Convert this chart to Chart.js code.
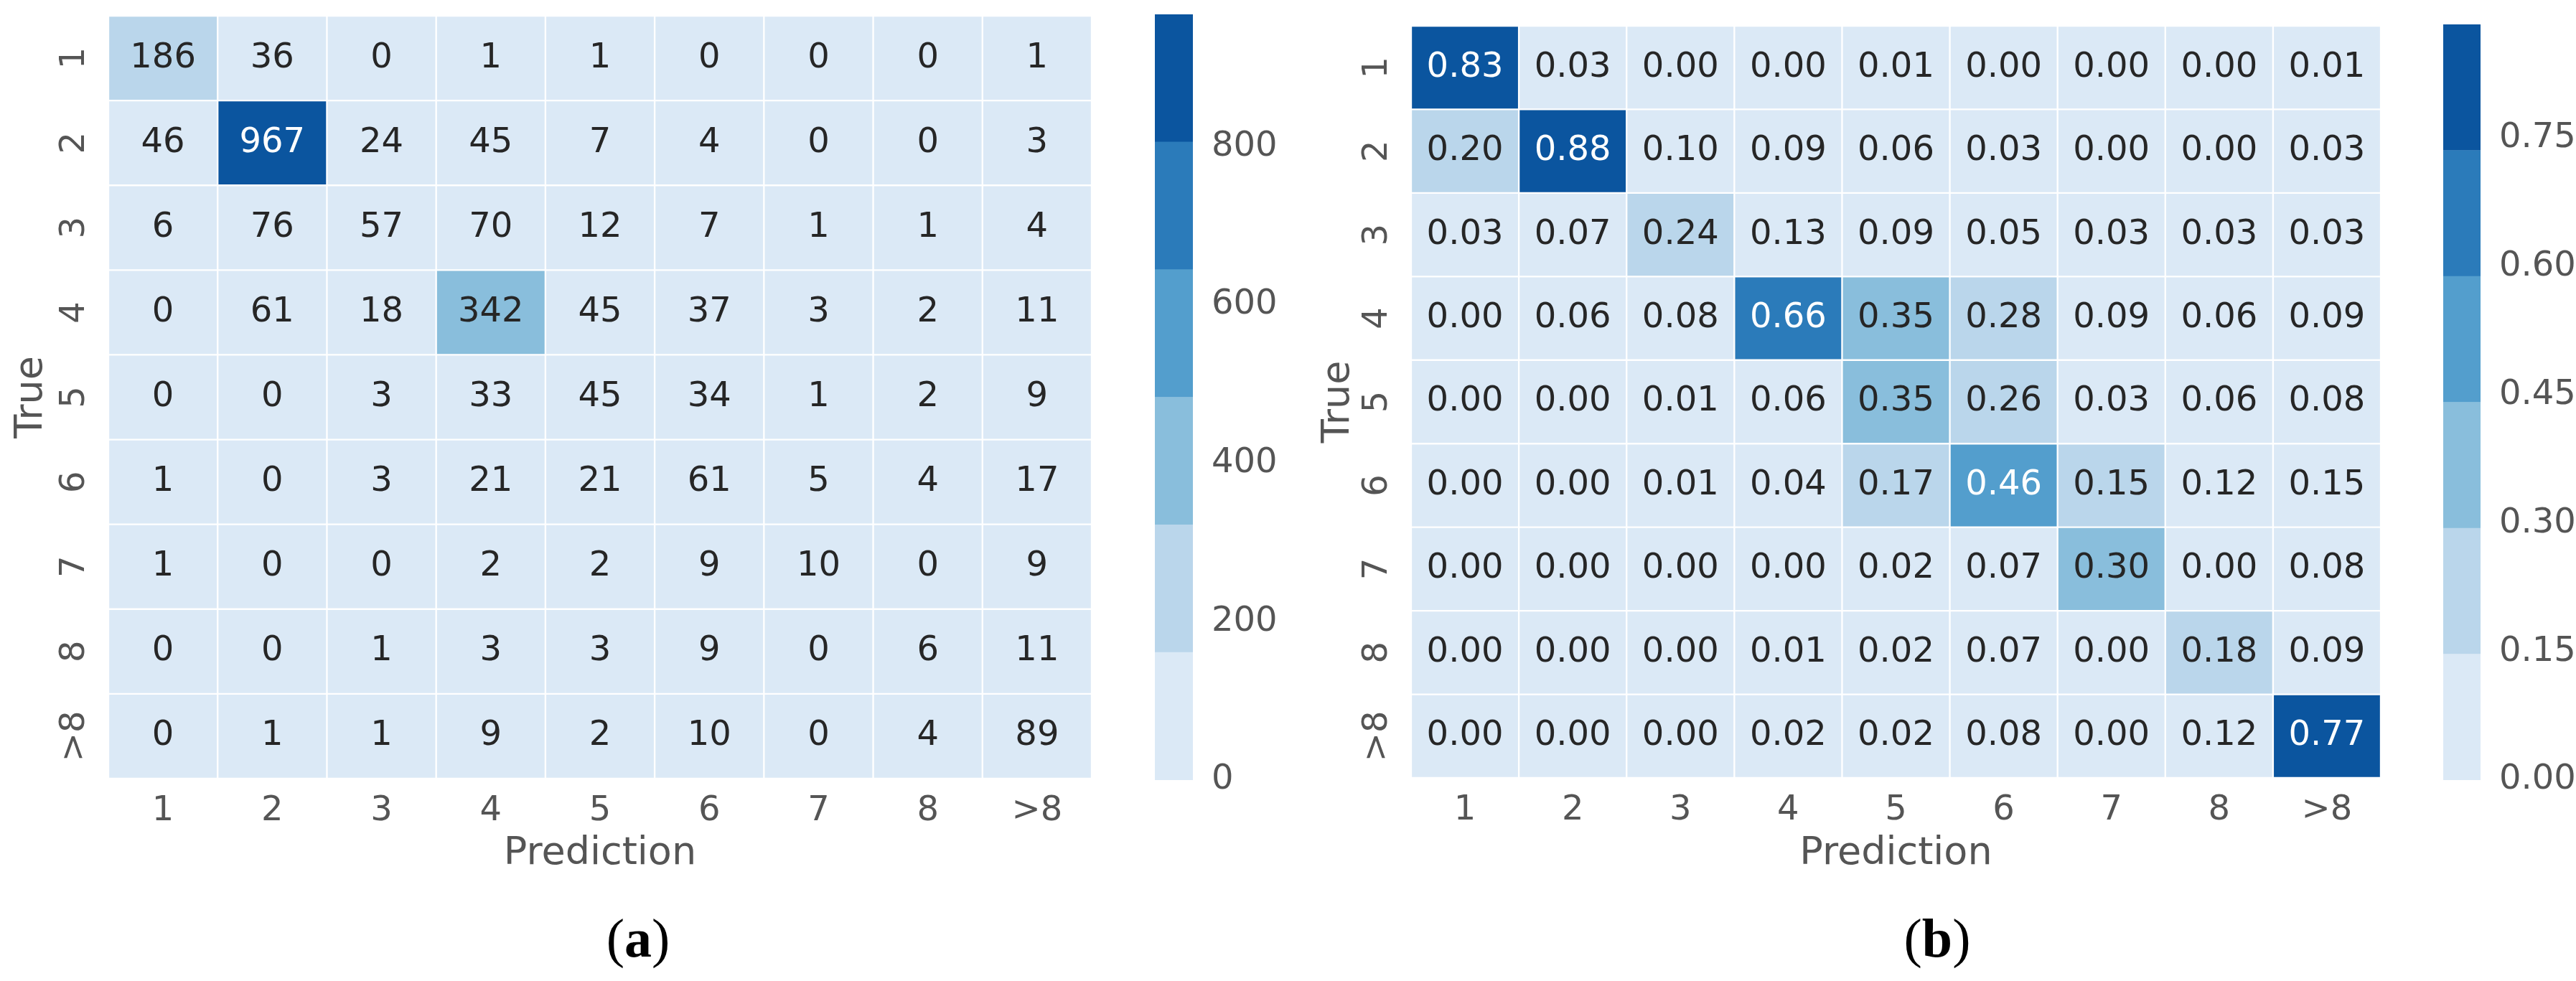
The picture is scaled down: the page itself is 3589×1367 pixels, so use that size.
<!DOCTYPE html>
<html>
<head>
<meta charset="utf-8">
<script src="https://cdn.jsdelivr.net/npm/chart.js@4.4.1/dist/chart.umd.min.js"></script>
<style>
  html, body { margin: 0; padding: 0; background: #fff; }
  body { width: 3589px; height: 1367px; position: relative; overflow: hidden; }
  .box { position: absolute; top: 0; }
  .caption { position: absolute; top: 1269px; font-family: "Liberation Serif", serif; font-size: 76px; line-height: 76px; color: #000; transform: translateX(-50%); white-space: nowrap; }
</style>
</head>
<body>
<div class="box" style="left:0"><canvas id="countsChart" width="1530" height="1230"></canvas></div>
<div class="box" style="left:1600px"><canvas id="countsBar" width="200" height="1230"></canvas></div>
<div class="box" style="left:1821px"><canvas id="ratioChart" width="1510" height="1230"></canvas></div>
<div class="box" style="left:3395px"><canvas id="ratioBar" width="194" height="1230"></canvas></div>
<div class="caption" style="left:889px">(<b>a</b>)</div>
<div class="caption" style="left:2699px">(<b>b</b>)</div>
<script>
const predLabels = ['1', '2', '3', '4', '5', '6', '7', '8', '>8'];
const trueLabels = ['1', '2', '3', '4', '5', '6', '7', '8', '>8'];

// (a) counts, rows = true class, columns = prediction
const counts = [
    [186, 36, 0, 1, 1, 0, 0, 0, 1],
    [46, 967, 24, 45, 7, 4, 0, 0, 3],
    [6, 76, 57, 70, 12, 7, 1, 1, 4],
    [0, 61, 18, 342, 45, 37, 3, 2, 11],
    [0, 0, 3, 33, 45, 34, 1, 2, 9],
    [1, 0, 3, 21, 21, 61, 5, 4, 17],
    [1, 0, 0, 2, 2, 9, 10, 0, 9],
    [0, 0, 1, 3, 3, 9, 0, 6, 11],
    [0, 1, 1, 9, 2, 10, 0, 4, 89]
];

// (b) normalised per predicted column
const ratios = [
    [0.83, 0.03, 0.00, 0.00, 0.01, 0.00, 0.00, 0.00, 0.01],
    [0.20, 0.883, 0.10, 0.09, 0.06, 0.03, 0.00, 0.00, 0.03],
    [0.03, 0.07, 0.24, 0.13, 0.09, 0.05, 0.03, 0.03, 0.03],
    [0.00, 0.06, 0.08, 0.66, 0.35, 0.28, 0.09, 0.06, 0.09],
    [0.00, 0.00, 0.01, 0.06, 0.35, 0.26, 0.03, 0.06, 0.08],
    [0.00, 0.00, 0.01, 0.04, 0.17, 0.46, 0.153, 0.12, 0.146],
    [0.00, 0.00, 0.00, 0.00, 0.02, 0.07, 0.30, 0.00, 0.08],
    [0.00, 0.00, 0.00, 0.01, 0.02, 0.07, 0.00, 0.18, 0.09],
    [0.00, 0.00, 0.00, 0.02, 0.02, 0.08, 0.00, 0.12, 0.77]
];

// colour bar tick labels
const countTicks = [0, 200, 400, 600, 800];
const ratioTicks = [0, 0.15, 0.30, 0.45, 0.60, 0.75];

// seaborn "Blues", 6 levels
const blues = ['#dbe9f6', '#bad6eb', '#89bedc', '#539ecd', '#2b7bba', '#0b559f'];

const family = "'DejaVu Sans', sans-serif";
const grey = '#555555';

function bandOf(v, vmax) {
    return Math.min(blues.length - 1, Math.floor(v / vmax * blues.length));
}

// keep the chart area where we put it: no extra room for end labels
function noEdgePadding(s) {
    s.paddingTop = 0;
    s.paddingBottom = 0;
    s.paddingLeft = 0;
    s.paddingRight = 0;
}

function heatmapConfig(matrix, fmt, yWidth, xHeight, padding) {
    const vmax = Math.max(...matrix.flat());

    // one dataset per prediction column, one floating bar per true row
    const datasets = predLabels.map((_, j) => ({
        data: trueLabels.map(() => [j, j + 1]),
        backgroundColor: trueLabels.map((_, i) => blues[bandOf(matrix[i][j], vmax)]),
        borderColor: '#ffffff',
        borderWidth: 1.5,
        borderSkipped: false
    }));

    const cellText = {
        id: 'cellText',
        afterDatasetsDraw(chart) {
            const ctx = chart.ctx;
            ctx.save();
            ctx.font = '48px ' + family;
            ctx.textAlign = 'center';
            ctx.textBaseline = 'middle';
            chart.data.datasets.forEach((ds, j) => {
                chart.getDatasetMeta(j).data.forEach((bar, i) => {
                    const v = matrix[i][j];
                    const c = bar.getCenterPoint();
                    ctx.fillStyle = bandOf(v, vmax) >= 3 ? '#ffffff' : '#262626';
                    ctx.fillText(fmt(v), c.x, c.y);
                });
            });
            ctx.restore();
        }
    };

    return {
        type: 'bar',
        data: { labels: trueLabels, datasets: datasets },
        options: {
            indexAxis: 'y',
            responsive: false,
            animation: false,
            devicePixelRatio: 1,
            layout: { padding: padding },
            datasets: { bar: { barPercentage: 1, categoryPercentage: 1, grouped: false } },
            plugins: { legend: { display: false }, tooltip: { enabled: false } },
            scales: {
                x: {
                    type: 'linear',
                    min: 0,
                    max: predLabels.length,
                    grid: { display: false },
                    border: { display: false },
                    afterBuildTicks: s => { s.ticks = predLabels.map((_, k) => ({ value: k + 0.5 })); },
                    afterFit: s => { s.height = xHeight; noEdgePadding(s); },
                    ticks: {
                        autoSkip: false,
                        maxRotation: 0,
                        padding: 9,
                        color: grey,
                        font: { family: family, size: 48 },
                        callback: (v, k) => predLabels[k]
                    },
                    title: {
                        display: true,
                        text: 'Prediction',
                        color: grey,
                        font: { family: family, size: 54 },
                        padding: { top: 0, bottom: 8 }
                    }
                },
                y: {
                    type: 'category',
                    grid: { display: false },
                    border: { display: false },
                    afterFit: s => { s.width = yWidth; noEdgePadding(s); },
                    ticks: {
                        minRotation: 90,
                        maxRotation: 90,
                        crossAlign: 'center',
                        padding: 3,
                        color: grey,
                        font: { family: family, size: 48 }
                    },
                    title: {
                        display: true,
                        text: 'True',
                        color: grey,
                        font: { family: family, size: 54 },
                        padding: { top: 12, bottom: 0 }
                    }
                }
            }
        },
        plugins: [cellText]
    };
}

function colorbarConfig(matrix, tickValues, fmt, axisWidth, padding) {
    const vmax = Math.max(...matrix.flat());
    const n = blues.length;
    return {
        type: 'bar',
        data: {
            labels: [''],
            datasets: blues.map((c, k) => ({
                data: [[vmax * k / n, vmax * (k + 1) / n]],
                backgroundColor: c,
                borderWidth: 0
            }))
        },
        options: {
            responsive: false,
            animation: false,
            devicePixelRatio: 1,
            layout: { padding: padding },
            datasets: { bar: { barPercentage: 1, categoryPercentage: 1, grouped: false } },
            plugins: { legend: { display: false }, tooltip: { enabled: false } },
            scales: {
                x: { display: false },
                y: {
                    position: 'right',
                    min: 0,
                    max: vmax,
                    grid: { display: false },
                    border: { display: false },
                    afterBuildTicks: s => { s.ticks = tickValues.map(v => ({ value: v })); },
                    afterFit: s => { s.width = axisWidth; noEdgePadding(s); },
                    ticks: {
                        padding: 18,
                        color: grey,
                        font: { family: family, size: 48 },
                        callback: v => fmt(v)
                    }
                }
            }
        }
    };
}

new Chart(document.getElementById('countsChart'),
    heatmapConfig(counts, v => String(v), 151, 145, { top: 22, right: 9, left: 0, bottom: 0 }));
new Chart(document.getElementById('countsBar'),
    colorbarConfig(counts, countTicks, v => String(v), 138, { top: 20, right: 0, left: 9, bottom: 143 }));
new Chart(document.getElementById('ratioChart'),
    heatmapConfig(ratios, v => v.toFixed(2), 145, 146, { top: 36, right: 14, left: 0, bottom: 0 }));
new Chart(document.getElementById('ratioBar'),
    colorbarConfig(ratios, ratioTicks, v => v.toFixed(2), 133, { top: 34, right: 0, left: 9, bottom: 143 }));
</script>
</body>
</html>
